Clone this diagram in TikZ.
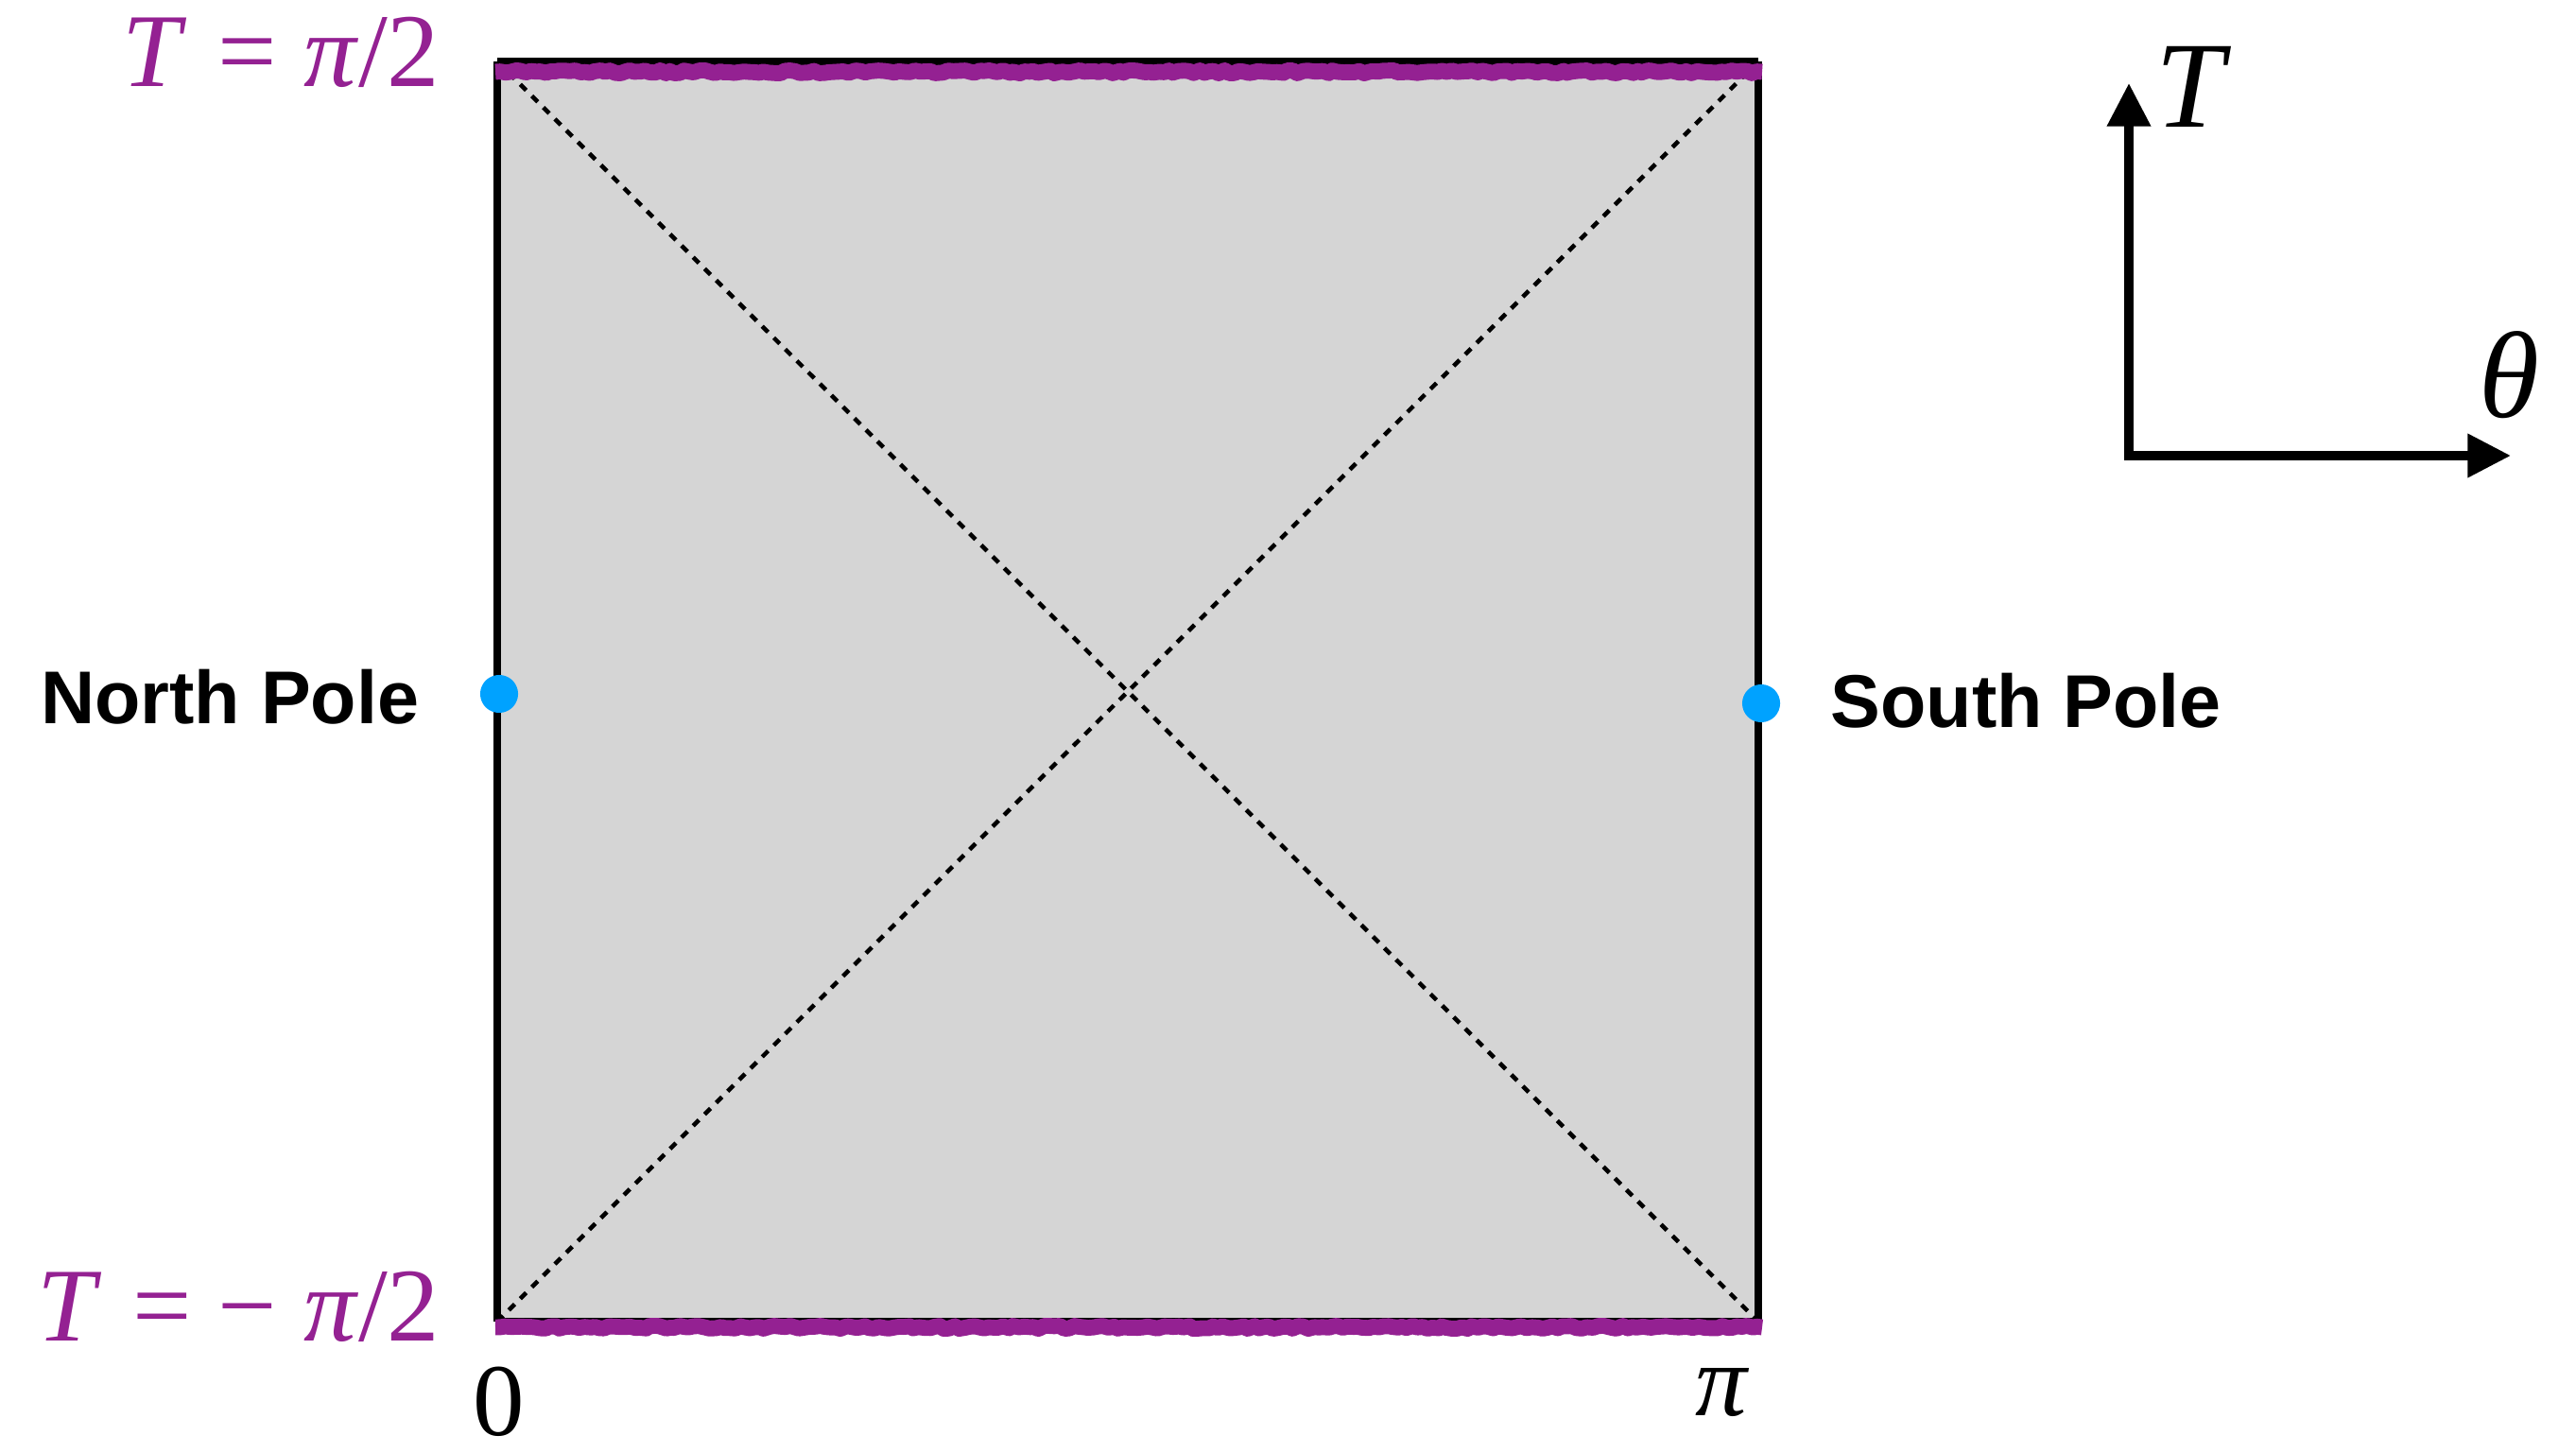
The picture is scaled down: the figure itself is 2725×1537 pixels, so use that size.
\documentclass[tikz,border=0pt]{standalone}
\usepackage{fontspec}
\setmainfont{Liberation Serif}
\newfontfamily\labelfont{Liberation Sans}
\usetikzlibrary{arrows.meta,decorations.pathmorphing}
\definecolor{penrosegray}{RGB}{213,213,213}
\definecolor{bndpurple}{RGB}{148,33,146}
\definecolor{poleblue}{RGB}{0,162,255}
\tikzset{
  edgeline/.style={line width=2.1pt, black},
  nullline/.style={line width=1.3pt, black, dash pattern=on 2.5pt off 2.4pt},
  bndline/.style={line width=4.8pt, bndpurple, line join=round, line cap=butt, decorate,
     decoration={random steps, segment length=1.5pt, amplitude=0.45pt}},
  poledot/.style={circle, fill=poleblue, inner sep=0pt, minimum size=11.4pt},
  polelabel/.style={font=\labelfont\bfseries\fontsize{22.5}{27}\selectfont, inner sep=0pt, text=black},
  bndlabel/.style={font=\fontsize{31.5}{36}\selectfont, inner sep=0pt, text=bndpurple},
  ticklabel/.style={font=\fontsize{31}{36}\selectfont, inner sep=0pt},
  axislabel/.style={font=\fontsize{37}{44}\selectfont, inner sep=0pt},
  axisline/.style={line width=2.7pt, line join=miter,
     {Triangle[length=13pt,width=12.6pt]}-{Triangle[length=13pt,width=12.6pt]}}
}
\begin{document}
\begin{tikzpicture}[x=0.01cm, y=-0.01cm]
\pgfmathsetseed{7}
\useasboundingbox (0,0) rectangle (2725,1537);
% corners
\coordinate (tl) at (526,65);
\coordinate (tr) at (1860,65);
\coordinate (bl) at (526,1398);
\coordinate (br) at (1860,1398);
% fill
\fill[penrosegray] (tl) rectangle (br);
% null diagonals
\draw[nullline] (tl) -- (br);
\draw[nullline] (bl) -- (tr);
% sides
\draw[edgeline] (tl) -- (bl);
\draw[edgeline] (tr) -- (br);
\draw[edgeline] (tl) -- (tr);
\draw[edgeline] (bl) -- (br);
% purple boundaries
\coordinate (ptl) at (524,76);
\coordinate (ptr) at (1864,76);
\coordinate (pbl) at (524,1404);
\coordinate (pbr) at (1864,1404);
\draw[bndline] (ptl) -- (ptr);
\draw[bndline] (pbl) -- (pbr);
% poles
\node[poledot] (np) at (528,734) {};
\node[poledot] (sp) at (1863,744) {};
\node[polelabel, anchor=base east] (npl) at (444,765) {North Pole};
\node[polelabel, anchor=base west] (spl) at (1936,769) {South Pole};
% boundary labels
\node[bndlabel, anchor=base east] (tp) at (466,92) {\textit{T}\hspace{0.05em} = \textit{π}/2};
\node[bndlabel, anchor=base east] (tm) at (466,1418) {\textit{T}\hspace{0.05em} = − \textit{π}/2};
% tick labels
\node[ticklabel, anchor=base] (zero) at (528,1518) {0};
\node[ticklabel, anchor=base] (pil) at (1822,1497) {\textit{π}};
% axes
\coordinate (ao) at (2252,482);
\coordinate (ay) at (2252,88);
\coordinate (ax) at (2656,482);
\draw[axisline] (ay) -- (ao) -- (ax);
\node[axislabel, anchor=base west] (tlab) at (2280,135) {\textit{T}};
\node[axislabel, anchor=base west] (thlab) at (2622,442) {\textit{θ}};
\end{tikzpicture}
\end{document}
